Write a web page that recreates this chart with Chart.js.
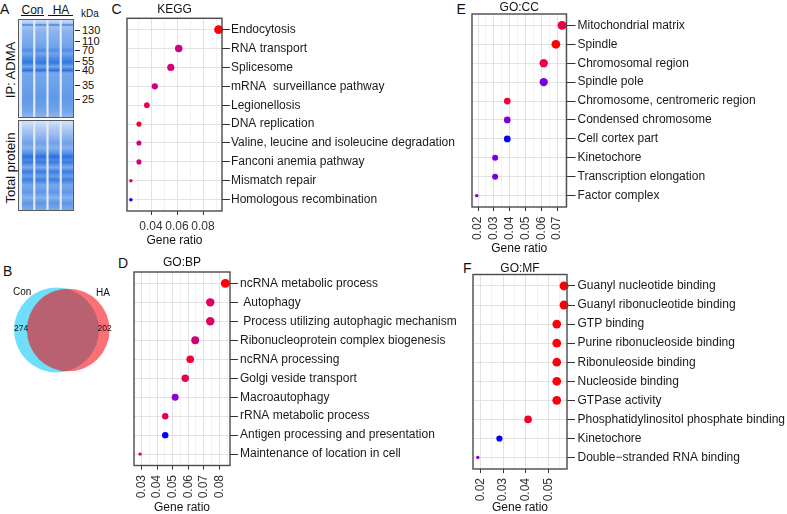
<!DOCTYPE html>
<html><head><meta charset="utf-8">
<script src="https://cdn.jsdelivr.net/npm/chart.js@4.4.1/dist/chart.umd.min.js"></script>
<style>
body{margin:0;background:#fff;}
#page{position:relative;width:787px;height:514px;overflow:hidden;font-family:"Liberation Sans",Arial,Helvetica,sans-serif;color:#111;}
canvas{position:absolute;}
.t{position:absolute;white-space:nowrap;line-height:1;}
.rot{position:absolute;white-space:nowrap;line-height:1;transform:translate(-50%,-50%) rotate(-90deg);}
.ul{position:absolute;height:0;border-top:1.5px solid #111;}
.dash{position:absolute;height:0;width:5px;border-top:1px solid #222;}
.pl{position:absolute;font-size:14px;line-height:1;white-space:nowrap;}
</style></head><body><div id="page">

<!-- panel letters -->
<div class="pl" style="left:0px;top:2.2px">A</div>
<div class="pl" style="left:3px;top:263.5px">B</div>
<div class="pl" style="left:111.5px;top:1.5px">C</div>
<div class="pl" style="left:118px;top:256px">D</div>
<div class="pl" style="left:456.5px;top:2.2px">E</div>
<div class="pl" style="left:463px;top:261px">F</div>

<!-- gel annotations -->
<div class="t" style="left:21px;top:4px;width:23px;text-align:center;font-size:12px">Con</div>
<div class="ul" style="left:21px;top:15px;width:23px"></div>
<div class="t" style="left:49px;top:4px;width:24px;text-align:center;font-size:12px">HA</div>
<div class="ul" style="left:48px;top:15px;width:25px"></div>
<div class="t" style="left:81px;top:9px;font-size:10px">kDa</div>
<div id="markers"></div>
<div class="rot" style="left:10px;top:70px;font-size:13px">IP: ADMA</div>
<div class="rot" style="left:10px;top:168px;font-size:13px">Total protein</div>

<canvas id="gelTop" width="56" height="99" style="left:18px;top:19px"></canvas>
<canvas id="gelBot" width="56" height="91" style="left:18px;top:120px"></canvas>

<!-- venn -->
<canvas id="venn" width="120" height="100" style="left:0px;top:280px"></canvas>
<div id="vennText"></div>

<canvas id="cKegg" width="350" height="250" style="left:115px;top:0px"></canvas>
<canvas id="cBP" width="343" height="264" style="left:122px;top:250px"></canvas>
<canvas id="cCC" width="327" height="257" style="left:460px;top:0px"></canvas>
<canvas id="cMF" width="326" height="256" style="left:461px;top:258px"></canvas>

</div>
<script>
// ---------------- DATA ----------------
// Panel A: marker ladder (kDa)
const markerLabels = ['130','110','70','55','40','35','25'];
const gelLanes = ['Con-1','Con-2','HA-1','HA-2'];

// Panel B: Venn (unique counts shown, shared estimated)
const vennSets = ['Con','HA'];
const vennUnique = [274, 202];
const vennShared = 1100;

// Panel C: KEGG
const keggTerms = ['Endocytosis','RNA transport','Splicesome','mRNA  surveillance pathway','Legionellosis','DNA replication','Valine, leucine and isoleucine degradation','Fanconi anemia pathway','Mismatch repair','Homologous recombination'];
const keggRatio = [0.0920,0.0613,0.0552,0.0429,0.0368,0.0307,0.0307,0.0307,0.0245,0.0245];
const keggCount = [15,10,9,7,6,5,5,5,4,4];
const keggPadj  = [0.0020,0.0146,0.0146,0.0152,0.0076,0.0045,0.0146,0.0152,0.0045,0.0300];
const keggMajor = [0.04,0.06,0.08];
const keggMinor = [0.03,0.05,0.07,0.09];

// Panel D: GO:BP
const bpTerms = ['ncRNA metabolic process',' Autophagy',' Process utilizing autophagic mechanism','Ribonucleoprotein complex biogenesis','ncRNA processing','Golgi veside transport','Macroautophagy','rRNA metabolic process','Antigen processing and presentation','Maintenance of location in cell'];
const bpRatio = [0.0839,0.0742,0.0742,0.0645,0.0613,0.0581,0.0516,0.0452,0.0452,0.0290];
const bpCount = [26,23,23,20,19,18,16,14,14,9];
const bpPadj  = [0.0010,0.0135,0.0135,0.0174,0.0069,0.0119,0.0320,0.0119,0.0400,0.0108];
const bpMajor = [0.03,0.04,0.05,0.06,0.07,0.08];
const bpMinor = [0.035,0.045,0.055,0.065,0.075,0.085];

// Panel E: GO:CC
const ccTerms = ['Mitochondrial matrix','Spindle','Chromosomal region','Spindle pole','Chromosome, centromeric region','Condensed chromosome','Cell cortex part','Kinetochore','Transcription elongation','Factor complex'];
const ccRatio = [0.0731,0.0692,0.0615,0.0615,0.0385,0.0385,0.0385,0.0308,0.0308,0.0192];
const ccCount = [19,18,16,16,10,10,10,8,8,5];
const ccPadj  = [0.0085,0.0020,0.0104,0.0343,0.0077,0.0343,0.0400,0.0343,0.0343,0.0332];
const ccMajor = [0.02,0.03,0.04,0.05,0.06,0.07];
const ccMinor = [0.025,0.035,0.045,0.055,0.065,0.075];

// Panel F: GO:MF
const mfTerms = ['Guanyl nucleotide binding','Guanyl ribonucleotide binding','GTP binding','Purine ribonucleoside binding','Ribonuleoside binding','Nucleoside binding','GTPase activity','Phosphatidylinositol phosphate binding','Kinetochore','Double\u2212stranded RNA binding'];
const mfRatio = [0.0568,0.0568,0.0536,0.0536,0.0536,0.0536,0.0536,0.0410,0.0284,0.0189];
const mfCount = [18,18,17,17,17,17,17,13,9,6];
const mfPadj  = [0.0010,0.0010,0.0018,0.0018,0.0018,0.0018,0.0018,0.0058,0.0400,0.0322];
const mfMajor = [0.02,0.03,0.04,0.05];
const mfMinor = [0.025,0.035,0.045,0.055];

// ---------------- SETUP ----------------
Chart.defaults.font.family = '"Liberation Sans", Arial, Helvetica, sans-serif';
Chart.defaults.animation = false;
Chart.defaults.events = [];
Chart.defaults.plugins.legend.display = false;
Chart.defaults.plugins.tooltip.enabled = false;

// colour scale red -> blue interpolated in CIELAB (like ggplot gradient)
function s2l(c){c/=255;return c<=0.04045?c/12.92:Math.pow((c+0.055)/1.055,2.4);}
function l2s(v){v=Math.max(0,Math.min(1,v));const c=v<=0.0031308?12.92*v:1.055*Math.pow(v,1/2.4)-0.055;return Math.round(c*255);}
const WX=0.95047,WZ=1.08883;
function rgbToLab(rgb){const R=s2l(rgb[0]),G=s2l(rgb[1]),B=s2l(rgb[2]);
  const X=(0.4124*R+0.3576*G+0.1805*B)/WX,Y=(0.2126*R+0.7152*G+0.0722*B),Z=(0.0193*R+0.1192*G+0.9505*B)/WZ;
  const f=t=>t>0.008856?Math.cbrt(t):7.787*t+16/116;const fx=f(X),fy=f(Y),fz=f(Z);
  return [116*fy-16,500*(fx-fy),200*(fy-fz)];}
function labToRgb(lab){const fy=(lab[0]+16)/116,fx=fy+lab[1]/500,fz=fy-lab[2]/200;
  const fi=t=>t>0.206893?t*t*t:(t-16/116)/7.787;const X=fi(fx)*WX,Y=fi(fy),Z=fi(fz)*WZ;
  const R=3.2406*X-1.5372*Y-0.4986*Z,G=-0.9689*X+1.8758*Y+0.0415*Z,B=0.0557*X-0.2040*Y+1.0570*Z;
  return 'rgb('+l2s(R)+','+l2s(G)+','+l2s(B)+')';}
const LOW=rgbToLab([255,0,0]),HIGH=rgbToLab([0,0,255]);
function padjColors(p){const mn=Math.min(...p),mx=Math.max(...p);
  return p.map(v=>{const t=(v-mn)/(mx-mn);return labToRgb(LOW.map((l,i)=>l+(HIGH[i]-l)*t));});}
function countRadii(c){const mn=Math.min(...c),mx=Math.max(...c);
  return c.map(v=>{const s=1+5*Math.sqrt((v-mn)/(mx-mn));return (1.1*s+2.35)/2;});}

const framePlugin={id:'frame',afterDatasetsDraw(chart,args,o){const a=chart.chartArea,ctx=chart.ctx;
  ctx.save();ctx.strokeStyle=o.color||'#444';ctx.lineWidth=o.width||1.4;
  ctx.strokeRect(a.left,a.top,a.right-a.left,a.bottom-a.top);ctx.restore();}};

function makeDot(id,d,L){
  const isMajor=v=>d.major.some(m=>Math.abs(m-v)<1e-9);
  const allTicks=[...d.major,...d.minor].sort((a,b)=>a-b);
  new Chart(document.getElementById(id),{
    type:'scatter',
    data:{datasets:[{data:d.ratio.map((r,i)=>({x:r,y:i})),pointRadius:countRadii(d.count),
      pointBackgroundColor:padjColors(d.padj),pointBorderWidth:0,clip:false}]},
    options:{responsive:false,layout:{autoPadding:false,padding:{left:L.padL,top:0,right:0,bottom:0}},
      scales:{
        x:{type:'linear',position:'bottom',min:L.xmin,max:L.xmax,
          afterBuildTicks:s=>{s.ticks=allTicks.map(v=>({value:v}));},
          ticks:{autoSkip:false,minRotation:L.rot,maxRotation:L.rot,padding:L.xTickPad,color:'#333',font:{size:12},
            callback:v=>isMajor(v)?v.toFixed(2):''},
          grid:{color:c=>(c.tick&&isMajor(c.tick.value))?'#e2e2e2':'#eeeeee',
            lineWidth:c=>(c.tick&&isMajor(c.tick.value))?1:0.8,
            tickColor:c=>(c.tick&&isMajor(c.tick.value))?'#333':'rgba(0,0,0,0)',tickLength:4,tickWidth:1},
          border:{display:false},
          title:{display:true,text:'Gene ratio',color:'#111',font:{size:12,lineHeight:1},padding:{top:0,bottom:L.xTitlePad}},
          afterFit:s=>{s.height=L.H;}},
        x2:{type:'linear',axis:'x',position:'top',min:L.xmin,max:L.xmax,ticks:{display:false},grid:{display:false},border:{display:false},
          title:{display:true,text:d.title,color:'#111',font:{size:12,lineHeight:1},padding:{top:L.titlePad,bottom:0}},
          afterFit:s=>{s.height=L.T;}},
        y:{type:'linear',position:'right',reverse:true,min:-0.6,max:d.terms.length-0.4,
          afterBuildTicks:s=>{s.ticks=d.terms.map((_,i)=>({value:i}));},
          ticks:{autoSkip:false,padding:L.yTickPad,color:'#1a1a1a',font:{size:12},callback:(v,i)=>d.terms[i]},
          grid:{color:'#e2e2e2',tickColor:'#333',tickLength:L.yTickLen,tickWidth:1},
          border:{display:false},afterFit:s=>{s.width=L.W;}}
      },
      plugins:{frame:{color:'#4a4a4a',width:1.4}}},
    plugins:[framePlugin]});
}

makeDot('cKegg',{terms:keggTerms,ratio:keggRatio,count:keggCount,padj:keggPadj,major:keggMajor,minor:keggMinor,title:'KEGG'},
  {padL:12,T:18.3,H:39,W:243,xmin:0.0215,xmax:0.0946,rot:0,xTickPad:4.5,xTitlePad:3,titlePad:4,yTickLen:8,yTickPad:1});
makeDot('cBP',{terms:bpTerms,ratio:bpRatio,count:bpCount,padj:bpPadj,major:bpMajor,minor:bpMinor,title:'GO:BP'},
  {padL:12,T:22,H:48.5,W:235,xmin:0.0251,xmax:0.0869,rot:90,xTickPad:5.5,xTitlePad:0.5,titlePad:7,yTickLen:8,yTickPad:2});
makeDot('cCC',{terms:ccTerms,ratio:ccRatio,count:ccCount,padj:ccPadj,major:ccMajor,minor:ccMinor,title:'GO:CC'},
  {padL:12,T:14,H:50,W:220.5,xmin:0.0162,xmax:0.0759,rot:90,xTickPad:5.7,xTitlePad:2,titlePad:1.5,yTickLen:9,yTickPad:2});
makeDot('cMF',{terms:mfTerms,ratio:mfRatio,count:mfCount,padj:mfPadj,major:mfMajor,minor:mfMinor,title:'GO:MF'},
  {padL:12,T:16.5,H:45,W:220,xmin:0.0168,xmax:0.0581,rot:90,xTickPad:5,xTitlePad:0,titlePad:5,yTickLen:8,yTickPad:2.5});

// ---------------- GEL (panel A) ----------------
const gelTopStops=[[0,'#c8d9f5'],[0.035,'#abc7f2'],[0.05,'#4182e1'],[0.068,'#a0c0f1'],[0.12,'#8ab2ee'],[0.2,'#7eabed'],[0.28,'#70a2eb'],[0.31,'#4f8ce5'],[0.345,'#70a3eb'],[0.40,'#4a89e4'],[0.44,'#3278df'],[0.48,'#72a5eb'],[0.52,'#2e70dc'],[0.545,'#74a6eb'],[0.65,'#6ea2ea'],[0.8,'#6099e8'],[0.92,'#6ea2ea'],[1,'#8cb3ee']];
const gelBotStops=[[0,'#d3e1f7'],[0.08,'#b3ccf3'],[0.18,'#8db5ef'],[0.25,'#6ea1ea'],[0.3,'#88b1ee'],[0.36,'#5a94e7'],[0.4,'#2a70df'],[0.44,'#4d8be5'],[0.46,'#3479e1'],[0.52,'#7caaed'],[0.57,'#3a7ce1'],[0.62,'#699fea'],[0.66,'#3c80e2'],[0.72,'#78a8ec'],[0.8,'#5f98e9'],[0.86,'#88b1ee'],[0.92,'#5d96e8'],[1,'#7caaed']];
const gelBg={id:'gelbg',beforeDraw(chart){const c=chart.ctx;c.save();c.fillStyle='#e3ebf7';c.fillRect(0,0,chart.width,chart.height);c.restore();},
  afterDraw(chart){const c=chart.ctx;c.save();c.strokeStyle='#5a5a5a';c.lineWidth=1;c.strokeRect(0.5,0.5,chart.width-1,chart.height-1);c.restore();}};
function gelGrad(stops){return ctx=>{const ch=ctx.chart,a=ch.chartArea;if(!a)return '#6a9fea';
  const g=ch.ctx.createLinearGradient(0,a.top,0,a.bottom);stops.forEach(s=>g.addColorStop(s[0],s[1]));return g;};}
function makeGel(id,stops){
  new Chart(document.getElementById(id),{type:'bar',
    data:{labels:gelLanes,datasets:[{data:gelLanes.map(()=>[0,1]),backgroundColor:gelGrad(stops),borderWidth:0,barPercentage:0.84,categoryPercentage:1}]},
    options:{responsive:false,layout:{autoPadding:false,padding:{left:3,right:0,top:1,bottom:1}},scales:{x:{display:false},y:{display:false,min:0,max:1}}},
    plugins:[gelBg]});
}
makeGel('gelTop',gelTopStops);
makeGel('gelBot',gelBotStops);

// marker ladder labels
(function(){const ys=[30.7,41,50.7,61,70.7,85,99];let h='';
  markerLabels.forEach((m,i)=>{h+='<div class="dash" style="left:74.5px;top:'+(ys[i]-0.5)+'px"></div>';
    h+='<div class="t" style="left:82px;top:'+(ys[i]-5.4)+'px;font-size:11px">'+m+'</div>';});
  document.getElementById('markers').innerHTML=h;})();

// ---------------- VENN (panel B) ----------------
(function(){
  const tot=[vennUnique[0]+vennShared,vennUnique[1]+vennShared];
  const r1=42.5,r2=r1*Math.sqrt(tot[1]/tot[0]);
  const target=vennShared/tot[0]*Math.PI*r1*r1;
  function lens(d){if(d<=Math.abs(r1-r2))return Math.PI*Math.min(r1,r2)**2;
    const a1=Math.acos((d*d+r1*r1-r2*r2)/(2*d*r1)),a2=Math.acos((d*d+r2*r2-r1*r1)/(2*d*r2));
    return r1*r1*a1+r2*r2*a2-0.5*Math.sqrt((-d+r1+r2)*(d+r1-r2)*(d-r1+r2)*(d+r1+r2));}
  let lo=Math.abs(r1-r2),hi=r1+r2;for(let k=0;k<60;k++){const m=(lo+hi)/2;if(lens(m)>target)lo=m;else hi=m;}
  const d=(lo+hi)/2,c1=14+r1,c2=c1+d,cy=50;
  new Chart(document.getElementById('venn'),{type:'bubble',
    data:{datasets:[
      {label:vennSets[1],order:1,clip:false,data:[{x:c2,y:cy,r:r2}],backgroundColor:'rgba(246,0,8,0.56)',borderWidth:0},
      {label:vennSets[0],order:2,clip:false,data:[{x:c1,y:cy,r:r1}],backgroundColor:'rgba(0,197,246,0.57)',borderWidth:0}]},
    options:{responsive:false,layout:{autoPadding:false,padding:0},scales:{x:{type:'linear',display:false,min:0,max:120},y:{type:'linear',display:false,min:0,max:100,reverse:true}}}});
  const vt=document.getElementById('vennText');
  vt.innerHTML='<div class="t" style="left:13px;top:287px;font-size:10px">'+vennSets[0]+'</div>'+
    '<div class="t" style="left:96px;top:288px;font-size:10px">'+vennSets[1]+'</div>'+
    '<div class="t" style="left:14px;top:324px;font-size:8.5px">'+vennUnique[0]+'</div>'+
    '<div class="t" style="left:97.5px;top:324px;font-size:8.5px">'+vennUnique[1]+'</div>';
})();
</script>
</body></html>
